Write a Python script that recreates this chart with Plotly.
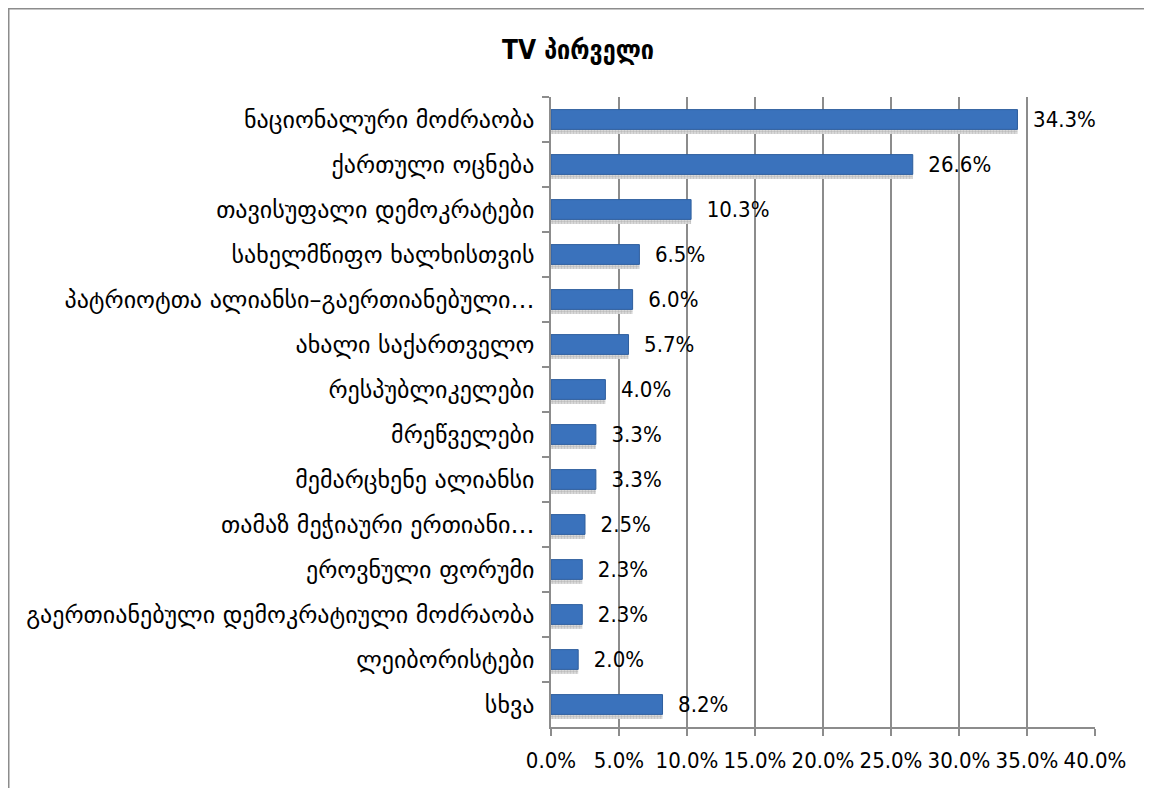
import plotly.graph_objects as go

categories = [
    "ნაციონალური მოძრაობა",
    "ქართული ოცნება",
    "თავისუფალი დემოკრატები",
    "სახელმწიფო ხალხისთვის",
    "პატრიოტთა ალიანსი–გაერთიანებული…",
    "ახალი საქართველო",
    "რესპუბლიკელები",
    "მრეწველები",
    "მემარცხენე ალიანსი",
    "თამაზ მეჭიაური ერთიანი…",
    "ეროვნული ფორუმი",
    "გაერთიანებული დემოკრატიული მოძრაობა",
    "ლეიბორისტები",
    "სხვა",
]
values = [34.3, 26.6, 10.3, 6.5, 6.0, 5.7, 4.0, 3.3, 3.3, 2.5, 2.3, 2.3, 2.0, 8.2]
tick_vals = [0, 5, 10, 15, 20, 25, 30, 35, 40]
tick_text = ["0.0%", "5.0%", "10.0%", "15.0%", "20.0%", "25.0%", "30.0%", "35.0%", "40.0%"]

num_font = "DejaVu Sans Condensed, sans-serif"
geo_font = "DejaVu Sans, sans-serif"

# page has an 8px body margin; figure coordinates = page coordinates - 8
W, H = 1144, 780
PL, PR, PT, PB = 551 - 8, 1095 - 8, 97 - 8, 727 - 8
PW, PH = PR - PL, PB - PT

fig = go.Figure()
# shadow
fig.add_trace(go.Bar(
    y=categories, x=values, orientation="h", width=0.44, offset=-0.12,
    marker=dict(color="rgba(0,0,0,0)", line=dict(width=0),
                pattern=dict(shape=".", fgcolor="#999999", bgcolor="#e0e0e0", size=3, solidity=0.5)),
    hoverinfo="skip", showlegend=False,
))
fig.add_trace(go.Bar(
    y=categories, x=values, orientation="h", width=0.44, offset=-0.22,
    marker=dict(color="#3a72bc", line=dict(color="#2f5f9e", width=1)),
    text=["  " + f"{v:.1f}%" for v in values],
    textposition="outside", cliponaxis=False, constraintext="none",
    textfont=dict(family=num_font, size=22, color="#000000"),
    showlegend=False,
))

fig.update_layout(
    width=W, height=H,
    paper_bgcolor="white", plot_bgcolor="white",
    barmode="overlay",
    margin=dict(l=PL, r=W - PR, t=PT, b=H - PB, autoexpand=False),
    title=dict(text="<b>TV პირველი</b>", x=(578 - 8) / W, xanchor="center",
               y=1 - (50 - 8) / H, yanchor="middle",
               font=dict(family="DejaVu Sans Condensed, DejaVu Sans, sans-serif", size=26, color="#000")),
    xaxis=dict(range=[0, 40], tickvals=tick_vals, ticktext=tick_text,
               showgrid=True, gridcolor="#8c8c8c", gridwidth=1.5,
               showline=True, linecolor="#8c8c8c", linewidth=1.5,
               ticks="outside", ticklen=7, tickcolor="#8c8c8c", tickwidth=1.5,
               ticklabelstandoff=6,
               tickfont=dict(family=num_font, size=22, color="#000"), zeroline=False),
    yaxis=dict(autorange="reversed", tickson="boundaries",
               showline=True, linecolor="#8c8c8c", linewidth=1.5,
               ticks="outside", ticklen=7, tickcolor="#8c8c8c", tickwidth=1.5,
               ticklabelstandoff=10,
               tickfont=dict(family=geo_font, size=24, color="#000"), showgrid=False),
    shapes=[dict(type="rect", xref="paper", yref="paper",
                 x0=(0.75 - PL) / PW, x1=(W + 20 - PL) / PW,
                 y0=(PB - H - 20) / PH, y1=(PB - 0.75) / PH,
                 line=dict(color="#8c8c8c", width=1.5), layer="below")],
)

fig.write_html("out.html")
